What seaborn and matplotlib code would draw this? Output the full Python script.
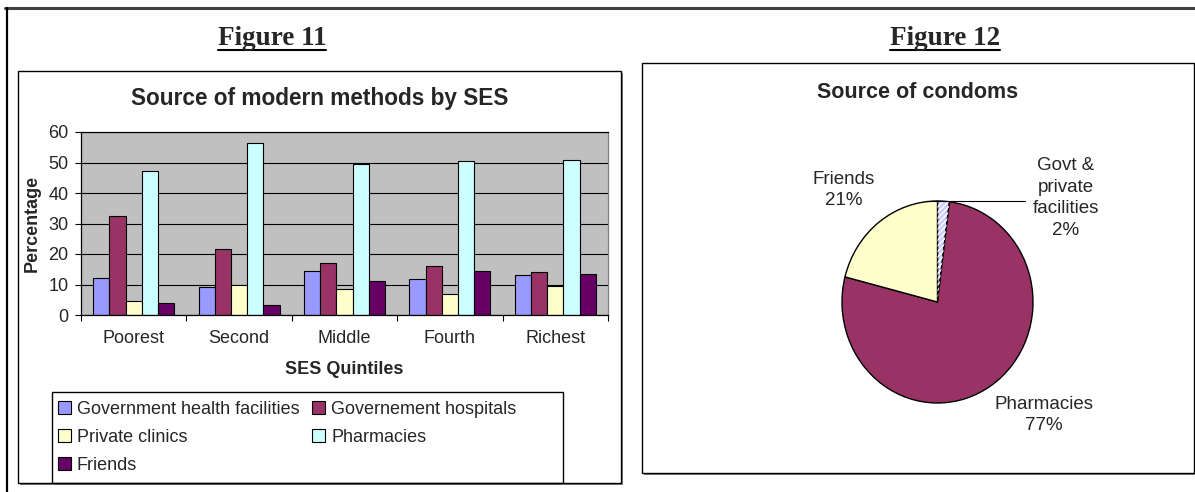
import matplotlib
matplotlib.use("Agg")
import matplotlib.pyplot as plt
import seaborn as sns
import pandas as pd
from matplotlib.patches import Patch, Rectangle, Wedge
from matplotlib.lines import Line2D

# ---------------- data ----------------
quintiles = ["Poorest", "Second", "Middle", "Fourth", "Richest"]
sources = ["Government health facilities", "Governement hospitals",
           "Private clinics", "Pharmacies", "Friends"]
gov_health = [12.2, 9.3, 14.3, 11.9, 13.2]
gov_hosp = [32.4, 21.5, 16.9, 16.1, 14.1]
private_clinics = [4.7, 9.9, 8.4, 6.8, 9.4]
pharmacies = [47.1, 56.3, 49.5, 50.4, 50.8]
friends = [3.9, 3.4, 11.0, 14.4, 13.6]
bar_colors = ["#9999FF", "#993366", "#FFFFCC", "#CCFFFF", "#660066"]
yticks = [0, 10, 20, 30, 40, 50, 60]

pie_names = ["Govt &\nprivate\nfacilities", "Pharmacies", "Friends"]
pie_values = [2, 77, 21]
pie_colors = ["#CCCCFF", "#993366", "#FFFFCC"]

# ---------------- setup ----------------
sns.set_style("white")
plt.rcParams["font.family"] = ["Liberation Sans", "DejaVu Sans"]

W, H = 1195, 492
fig = plt.figure(figsize=(W / 100, H / 100), dpi=100)
fig.patch.set_facecolor("white")


def fx(x):
    return x / W


def fy(y):
    return 1 - y / H


def box(x0, y0, x1, y1, fill=True, shadow=True, z=-5):
    if shadow:
        fig.patches.append(Rectangle((fx(x0 + 2), fy(y1 + 2)), (x1 - x0) / W, (y1 - y0) / H,
                                     transform=fig.transFigure, facecolor="#808080",
                                     edgecolor="none", zorder=z - 1))
    fig.patches.append(Rectangle((fx(x0), fy(y1)), (x1 - x0) / W, (y1 - y0) / H,
                                 transform=fig.transFigure,
                                 facecolor="white" if fill else "none",
                                 edgecolor="black", linewidth=1.0, zorder=z))


# outer table lines
fig.lines.append(Line2D([fx(5), fx(1195)], [fy(8), fy(8)], transform=fig.transFigure,
                        color="#404040", linewidth=2.2))
fig.lines.append(Line2D([fx(7), fx(7)], [fy(8), fy(492)], transform=fig.transFigure,
                        color="black", linewidth=1.6))

# chart boxes
box(18, 71, 621, 483)
box(642, 63, 1194, 473)


def fig_title(x, txt):
    t = fig.text(fx(x), fy(45), txt, family=["Liberation Serif", "DejaVu Serif"],
                 weight="bold", fontsize=19.5, ha="center", va="baseline")
    fig.canvas.draw()
    bb = t.get_window_extent(renderer=fig.canvas.get_renderer())
    fig.lines.append(Line2D([bb.x0 / W, bb.x1 / W], [fy(49.5), fy(49.5)],
                            transform=fig.transFigure, color="black", linewidth=1.5))


# ---------------- bar chart ----------------
df = pd.DataFrame({
    "quintile": quintiles * 5,
    "source": sum([[s] * 5 for s in sources], []),
    "value": gov_health + gov_hosp + private_clinics + pharmacies + friends,
})

ax = fig.add_axes([fx(81), fy(315), (608 - 81) / W, (315 - 132) / H])
ax.set_facecolor("#C0C0C0")
sns.barplot(data=df, x="quintile", y="value", hue="source", order=quintiles,
            hue_order=sources, palette=bar_colors, saturation=1, width=0.77,
            edgecolor="black", linewidth=0.8, legend=False, ax=ax)
ax.set_xlim(-0.5, 4.5)
ax.set_ylim(0, 60)
ax.set_yticks(yticks)
ax.yaxis.grid(True, color="black", linewidth=0.8)
ax.xaxis.grid(False)
ax.set_axisbelow(True)
ax.set_xlabel("")
ax.set_ylabel("")
for side in ["left", "bottom", "top"]:
    ax.spines[side].set_color("black")
    ax.spines[side].set_linewidth(0.9)
ax.spines["right"].set_color("#808080")
ax.spines["right"].set_linewidth(0.9)
ax.tick_params(axis="y", which="major", length=4, width=0.8, color="black",
               direction="out", left=True, pad=5, labelsize=13)
ax.tick_params(axis="x", which="major", length=0, pad=11, labelsize=13)
ax.set_xticks([i - 0.5 for i in range(6)], minor=True)
ax.tick_params(axis="x", which="minor", length=4, width=0.8, color="black",
               direction="out", bottom=True)

fig.text(fx(320), fy(98), "Source of modern methods by SES", weight="bold",
         fontsize=16.3, ha="center", va="center")
fig.text(fx(32), fy(223), "Percentage", weight="bold", fontsize=13,
         rotation=90, ha="center", va="center")
fig.text(fx(344), fy(369), "SES Quintiles", weight="bold", fontsize=13,
         ha="center", va="center")

# legend (row-major order like the original)
order = [0, 2, 4, 1, 3]
handles = [Patch(facecolor=bar_colors[i], edgecolor="black", linewidth=0.8) for i in order]
labels = [sources[i] for i in order]
ax.legend(handles, labels, ncol=2, loc="upper left",
          bbox_to_anchor=(fx(58), fy(401)), bbox_transform=fig.transFigure,
          frameon=False, fontsize=13, handlelength=0.7, handleheight=0.7,
          handletextpad=0.35, columnspacing=0.7, labelspacing=0.6,
          borderaxespad=0, borderpad=0)
box(52, 392, 563, 483, fill=False, shadow=False, z=2)

# ---------------- pie chart ----------------
pax = fig.add_axes([fx(842), fy(403), (1033 - 842) / W, (403 - 201) / H])
wedges, _ = pax.pie(pie_values, colors=pie_colors, startangle=90, counterclock=False,
                    wedgeprops=dict(edgecolor="black", linewidth=1.0))
pax.set_aspect("auto")
pax.set_xlim(-1, 1)
pax.set_ylim(-1, 1)
for w in wedges:
    w.set_clip_on(False)
w0 = wedges[0]
hatch = Wedge(w0.center, w0.r, w0.theta1, w0.theta2, facecolor="none",
              edgecolor="white", hatch="//////", linewidth=0, clip_on=False)
pax.add_patch(hatch)

fig.text(fx(918), fy(93), "Source of condoms", weight="bold", fontsize=15.5,
         ha="center", va="center")
fig.text(fx(844), fy(190), f"{pie_names[2]}\n{pie_values[2]}%", fontsize=13.5,
         ha="center", va="center", linespacing=1.3)
fig.text(fx(1066), fy(198), f"{pie_names[0]}\n{pie_values[0]}%", fontsize=13.5,
         ha="center", va="center", linespacing=1.38)
fig.text(fx(1044), fy(415), f"{pie_names[1]}\n{pie_values[1]}%", fontsize=13.5,
         ha="center", va="center", linespacing=1.3)
fig.lines.append(Line2D([fx(926), fx(1025)], [fy(201), fy(201)],
                        transform=fig.transFigure, color="black", linewidth=0.8))

fig_title(272, "Figure 11")
fig_title(945, "Figure 12")

fig.savefig("out.png", dpi=100)
